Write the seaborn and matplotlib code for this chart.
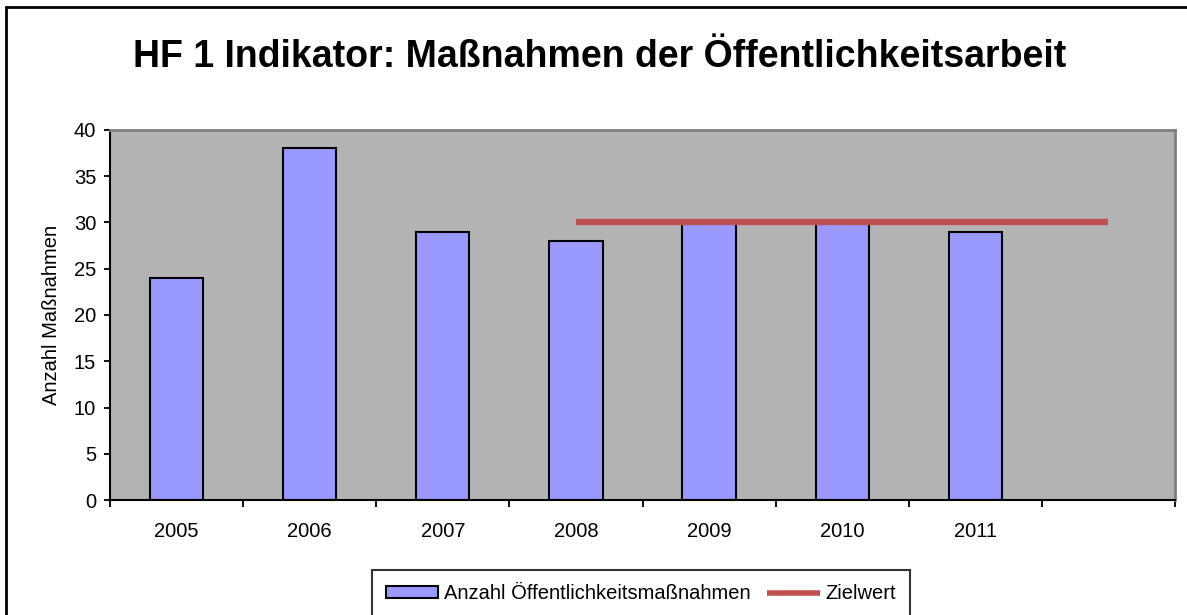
import numpy as np
import pandas as pd
import matplotlib
matplotlib.use("Agg")
import matplotlib.pyplot as plt
import seaborn as sns
from matplotlib.patches import Rectangle, Patch
from matplotlib.lines import Line2D

# Daten
jahre = ["2005", "2006", "2007", "2008", "2009", "2010", "2011", ""]
massnahmen = [24, 38, 29, 28, 30, 30, 29, np.nan]
zielwert = [np.nan, np.nan, np.nan, 30, 30, 30, 30, 30]

titel = "HF 1 Indikator: Maßnahmen der Öffentlichkeitsarbeit"
ylabel = "Anzahl Maßnahmen"
label_bar = "Anzahl Öffentlichkeitsmaßnahmen"
label_line = "Zielwert"

sns.set_style("white")
plt.rcParams["font.family"] = ["Liberation Sans", "DejaVu Sans"]
plt.rcParams["text.color"] = "black"
plt.rcParams["axes.labelcolor"] = "black"
plt.rcParams["xtick.color"] = "black"
plt.rcParams["ytick.color"] = "black"

W, H = 1187, 615
fig = plt.figure(figsize=(W / 100, H / 100), dpi=100)
ax = fig.add_axes([110 / W, 1 - 500 / H, (1175 - 110) / W, (500 - 130) / H])
ax.set_facecolor("#B3B3B3")

df = pd.DataFrame({"jahr": jahre, "anzahl": massnahmen})
sns.barplot(data=df, x="jahr", y="anzahl", order=jahre, color="#9999FF",
            saturation=1, width=0.4, edgecolor="black", linewidth=1.5, ax=ax)
sns.lineplot(x=np.arange(len(jahre)), y=zielwert, color="#C0504D",
             linewidth=4.5, solid_capstyle="butt", ax=ax)

ax.set_xlim(-0.5, len(jahre) - 0.5)
ax.set_ylim(0, 40)
ax.set_yticks(range(0, 41, 5))
ax.set_xticks(range(len(jahre)))
ax.set_xticklabels(jahre)
ax.set_xticks(np.arange(-0.5, len(jahre), 1), minor=True)
ax.tick_params(axis="x", which="major", length=0, pad=16, labelsize=14.5)
ax.tick_params(axis="x", which="minor", length=5, width=1.3, direction="out",
               bottom=True)
ax.tick_params(axis="y", length=4, width=1.3, direction="out", left=True,
               pad=6, labelsize=14.5)
ax.set_xlabel("")
ax.set_ylabel(ylabel, fontsize=14.5, labelpad=9)

for s in ["left", "bottom"]:
    ax.spines[s].set_color("black")
    ax.spines[s].set_linewidth(1.5)
for s in ["top", "right"]:
    ax.spines[s].set_color("#808080")
    ax.spines[s].set_linewidth(2)

fig.text(600 / W, 1 - 57 / H, titel, ha="center", va="center",
         fontsize=27, fontweight="bold")

handles = [Patch(facecolor="#9999FF", edgecolor="black", linewidth=1.5),
           Line2D([], [], color="#C0504D", linewidth=4, solid_capstyle="butt")]
leg = fig.legend(handles, [label_bar, label_line], loc="upper left",
                 bbox_to_anchor=(372 / W, 1 - 570 / H), ncol=2,
                 fontsize=14.5, frameon=True, fancybox=False,
                 edgecolor="black", handlelength=2.6, handleheight=0.5,
                 handletextpad=0.3, columnspacing=0.8, borderpad=0.7,
                 borderaxespad=0)
leg.get_frame().set_linewidth(1.5)

fig.patches.append(Rectangle((6 / W, -0.2), 1.2, 1.2 - 7 / H,
                             transform=fig.transFigure, fill=False,
                             edgecolor="black", linewidth=2, zorder=10))

fig.savefig("out.png", dpi=100)
